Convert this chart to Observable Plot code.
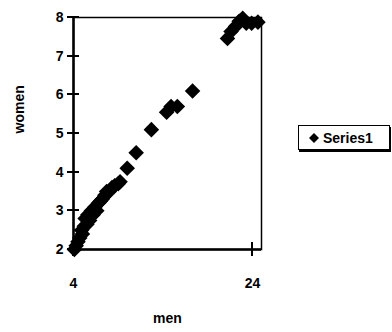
<!DOCTYPE html>
<html>
<head>
<meta charset="utf-8">
<script src="https://cdn.jsdelivr.net/npm/d3@7"></script>
<script src="https://cdn.jsdelivr.net/npm/@observablehq/plot@0.6"></script>
<style>
  html, body { margin: 0; padding: 0; background: #fff; }
  #wrap { position: relative; width: 392px; height: 332px; font-family: "Liberation Sans", Arial, sans-serif; font-weight: bold; }
  #legend { position: absolute; left: 298px; top: 125px; width: 90px; height: 23px; border: 1.5px solid #000; box-shadow: 1px 2px 0 #000; background: #fff; display: flex; align-items: center; font-size: 14px; }
  #legend svg { margin: 0 4px 0 10px; }
</style>
</head>
<body>
<div id="wrap"></div>
<script>
const men = [4.1, 4.3, 4.5, 4.7, 4.9, 5.0, 5.2, 5.3, 5.5, 5.6, 5.8, 6.0, 6.2, 6.4, 6.6, 6.8, 7.0, 7.2, 7.5, 7.7, 8.0, 8.3, 8.6, 9.0, 9.2, 10.0, 11.0, 12.7, 14.4, 14.9, 15.6, 17.3, 21.2, 21.6, 22.1, 22.5, 22.9, 23.3, 23.9, 24.6];
const women = [2.0, 2.1, 2.2, 2.3, 2.5, 2.4, 2.6, 2.8, 2.65, 2.9, 2.75, 3.0, 2.9, 3.1, 3.0, 3.2, 3.25, 3.3, 3.4, 3.5, 3.5, 3.6, 3.65, 3.7, 3.75, 4.1, 4.5, 5.1, 5.55, 5.7, 5.7, 6.1, 7.46, 7.64, 7.77, 7.9, 7.98, 7.85, 7.85, 7.88];
const xTicks = [4, 24];
const yTicks = [2, 3, 4, 5, 6, 7, 8];
const seriesName = "Series1";
const xLabel = "men";
const yLabel = "women";

const data = men.map((m, i) => ({men: m, women: women[i]}));
const W = 392, H = 332, ML = 73, MT = 17, MR = 131, MB = 83;

// short ticks crossing the axis lines, positioned by the plot's own scales
const crossTicksY = (values, half) => (index, scales) => {
  const g = d3.create("svg:g").attr("stroke", "black").attr("stroke-width", 2);
  for (const v of values) {
    const yy = Math.round(scales.y(v));
    g.append("line").attr("x1", ML - half).attr("x2", ML + half).attr("y1", yy).attr("y2", yy);
  }
  return g.node();
};
const crossTicksX = (values, half) => (index, scales) => {
  const g = d3.create("svg:g").attr("stroke", "black").attr("stroke-width", 2);
  const yb = H - MB;
  for (const v of values) {
    const xx = Math.round(scales.x(v));
    g.append("line").attr("x1", xx).attr("x2", xx).attr("y1", yb - half).attr("y2", yb + half);
  }
  return g.node();
};

const chart = Plot.plot({
  width: W,
  height: H,
  marginLeft: ML,
  marginTop: MT,
  marginRight: MR,
  marginBottom: MB,
  style: {fontFamily: "'Liberation Sans', Arial, sans-serif", fontWeight: "bold", fontSize: "14px", background: "white", color: "black", overflow: "visible"},
  x: {domain: [4, 25]},
  y: {domain: [2, 8]},
  marks: [
    Plot.frame({stroke: "black", strokeWidth: 1.5}),
    Plot.axisY(yTicks, {tickSize: 0, tickPadding: 10, label: null, fontSize: 14, fontWeight: "bold"}),
    Plot.axisX(xTicks, {tickSize: 0, tickPadding: 29, label: null, fontSize: 14, fontWeight: "bold"}),
    Plot.ruleX([4], {stroke: "black", strokeWidth: 2.5}),
    Plot.ruleY([2], {stroke: "black", strokeWidth: 2.5}),
    crossTicksY(yTicks, 6),
    crossTicksX(xTicks, 7),
    Plot.dot(data, {x: "men", y: "women", symbol: "diamond2", r: 7, fill: "black", stroke: null}),
    Plot.text([xLabel], {frameAnchor: "bottom", dy: 73, text: d => d, fontSize: 14, fontWeight: "bold"}),
    Plot.text([yLabel], {frameAnchor: "left", dx: -54, rotate: -90, text: d => d, fontSize: 14, fontWeight: "bold"})
  ]
});

const wrap = document.getElementById("wrap");
wrap.appendChild(chart);
chart.style.position = "absolute";
chart.style.left = "0";
chart.style.top = "0";

const legend = document.createElement("div");
legend.id = "legend";
legend.innerHTML = `<svg width="10" height="10" viewBox="-5 -5 10 10"><path d="M0,-5L5,0L0,5L-5,0Z" fill="#000"/></svg><span>${seriesName}</span>`;
wrap.appendChild(legend);
</script>
</body>
</html>
